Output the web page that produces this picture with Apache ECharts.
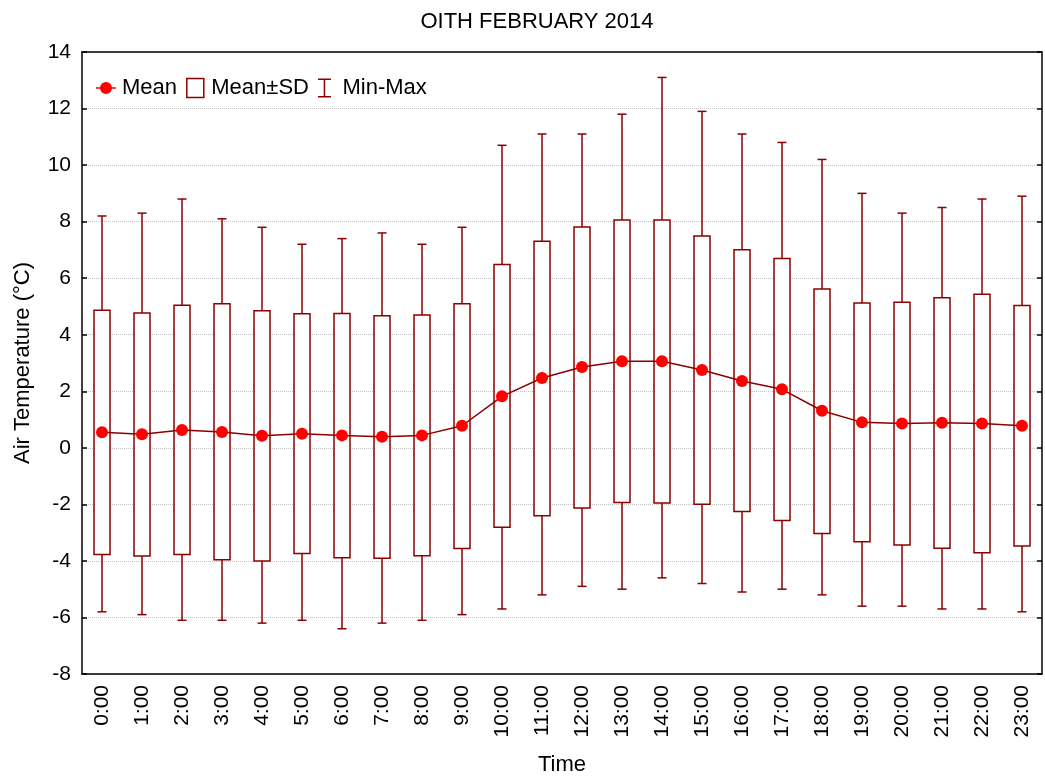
<!DOCTYPE html>
<html>
<head>
<meta charset="utf-8">
<script src="https://cdn.jsdelivr.net/npm/echarts@6/dist/echarts.min.js"></script>
<style>
html,body{margin:0;padding:0;background:#ffffff;}
#chart{width:1045px;height:780px;}
</style>
</head>
<body>
<div id="chart"></div>
<script>
// ---- data ----
const categories = ['0:00','1:00','2:00','3:00','4:00','5:00','6:00','7:00','8:00','9:00','10:00','11:00',
  '12:00','13:00','14:00','15:00','16:00','17:00','18:00','19:00','20:00','21:00','22:00','23:00'];
const meanValues = [0.55,0.48,0.63,0.56,0.43,0.50,0.44,0.39,0.44,0.78,1.82,2.47,
  2.86,3.06,3.06,2.75,2.36,2.07,1.31,0.90,0.86,0.89,0.86,0.78];
const sdHighValues = [4.87,4.77,5.04,5.10,4.85,4.74,4.75,4.67,4.70,5.10,6.48,7.31,
  7.81,8.06,8.06,7.49,7.01,6.70,5.62,5.12,5.15,5.31,5.43,5.03];
const sdLowValues = [-3.77,-3.83,-3.77,-3.96,-4.00,-3.74,-3.89,-3.91,-3.82,-3.56,-2.81,-2.40,
  -2.13,-1.93,-1.95,-2.00,-2.25,-2.57,-3.03,-3.32,-3.44,-3.55,-3.71,-3.47];
const maxValues = [8.2,8.3,8.8,8.1,7.8,7.2,7.4,7.6,7.2,7.8,10.7,11.1,
  11.1,11.8,13.1,11.9,11.1,10.8,10.2,9.0,8.3,8.5,8.8,8.9];
const minValues = [-5.8,-5.9,-6.1,-6.1,-6.2,-6.1,-6.4,-6.2,-6.1,-5.9,-5.7,-5.2,
  -4.9,-5.0,-4.6,-4.8,-5.1,-5.0,-5.2,-5.6,-5.6,-5.7,-5.7,-5.8];
const yMin = -8, yMax = 14, yInterval = 2;
const titleText = 'OITH FEBRUARY 2014';
const xName = 'Time';
const yName = 'Air Temperature (°C)';

// ---- styling ----
const DARK = '#8B0000';
const RED = '#FF0000';
const FONT = 'Liberation Sans, Arial, sans-serif';
const FS = 21;   // tick labels
const FS2 = 22;  // title, names, legend

const boxData = categories.map((c, i) => [i, sdLowValues[i], sdHighValues[i]]);
const whiskerData = categories.map((c, i) => [i, minValues[i], maxValues[i], sdLowValues[i], sdHighValues[i]]);

function renderBox(params, api) {
  const i = api.value(0);
  const lo = api.coord([i, api.value(1)]);
  const hi = api.coord([i, api.value(2)]);
  const w = 16;
  return {
    type: 'rect',
    shape: { x: lo[0] - w / 2, y: hi[1], width: w, height: lo[1] - hi[1] },
    style: { fill: '#ffffff', stroke: DARK, lineWidth: 1.5 }
  };
}

function renderWhisker(params, api) {
  const i = api.value(0);
  const x = api.coord([i, 0])[0];
  const yMinP = api.coord([i, api.value(1)])[1];
  const yMaxP = api.coord([i, api.value(2)])[1];
  const yLo = api.coord([i, api.value(3)])[1];
  const yHi = api.coord([i, api.value(4)])[1];
  const hw = 4.5;
  const style = { stroke: DARK, lineWidth: 1.5 };
  return {
    type: 'group',
    children: [
      { type: 'line', shape: { x1: x, y1: yMaxP, x2: x, y2: yHi }, style: style },
      { type: 'line', shape: { x1: x - hw, y1: yMaxP, x2: x + hw, y2: yMaxP }, style: style },
      { type: 'line', shape: { x1: x, y1: yLo, x2: x, y2: yMinP }, style: style },
      { type: 'line', shape: { x1: x - hw, y1: yMinP, x2: x + hw, y2: yMinP }, style: style }
    ]
  };
}

const chart = echarts.init(document.getElementById('chart'), null, { renderer: 'canvas' });
chart.setOption({
  animation: false,
  backgroundColor: '#ffffff',
  textStyle: { fontFamily: FONT },
  title: {
    text: titleText,
    left: 532,
    textAlign: 'center',
    top: 6,
    textStyle: { fontFamily: FONT, fontSize: FS2, fontWeight: 'normal', color: '#000' }
  },
  legend: {
    left: 91,
    top: 72,
    itemWidth: 20,
    itemHeight: 19,
    itemGap: 9,
    textStyle: { fontFamily: FONT, fontSize: FS2, color: '#000', padding: [0, 0, 0, 1] },
    data: [
      { name: 'Mean', icon: 'path://M0,9.25H20V10.75H0Z M16,10A6,6 0 1,1 4,10A6,6 0 1,1 16,10Z', itemStyle: { color: RED, borderWidth: 0 } },
      { name: 'Mean±SD', icon: 'path://M0,0H17V19H0Z', itemStyle: { color: '#ffffff', borderColor: DARK, borderWidth: 1.5 } },
      { name: 'Min-Max', icon: 'path://M0,0H13V1.5H7.25V17.5H13V19H0V17.5H5.75V1.5H0Z', itemStyle: { color: DARK, borderWidth: 0 },
        textStyle: { fontFamily: FONT, fontSize: FS2, color: '#000', padding: [0, 0, 0, 3] } }
    ]
  },
  grid: { left: 82, right: 3, top: 52, bottom: 106, containLabel: false, outerBoundsMode: 'none' },
  xAxis: [
    {
      type: 'category',
      data: categories,
      boundaryGap: true,
      name: xName,
      nameLocation: 'middle',
      nameGap: 80,
      nameTextStyle: { fontFamily: FONT, fontSize: FS2, color: '#000' },
      axisLine: { onZero: false, lineStyle: { color: '#000', width: 1.5 } },
      axisTick: { inside: true, length: 5, alignWithLabel: true, lineStyle: { color: '#000', width: 1.5 } },
      axisLabel: { rotate: 90, margin: 11, interval: 0, fontFamily: FONT, fontSize: FS, color: '#000' },
      splitLine: { show: false }
    },
    {
      type: 'category',
      data: categories,
      position: 'top',
      boundaryGap: true,
      axisLine: { onZero: false, lineStyle: { color: '#000', width: 1.5 } },
      axisTick: { inside: true, length: 5, alignWithLabel: true, lineStyle: { color: '#000', width: 1.5 } },
      axisLabel: { show: false },
      splitLine: { show: false }
    }
  ],
  yAxis: [
    {
      type: 'value',
      min: yMin, max: yMax, interval: yInterval,
      name: yName,
      nameLocation: 'middle',
      nameGap: 48,
      nameTextStyle: { fontFamily: FONT, fontSize: FS2, color: '#000' },
      axisLine: { show: true, onZero: false, lineStyle: { color: '#000', width: 1.5 } },
      axisTick: { show: true, inside: true, length: 5, lineStyle: { color: '#000', width: 1.5 } },
      axisLabel: { margin: 11, fontFamily: FONT, fontSize: FS, color: '#000' },
      splitLine: { show: true, lineStyle: { type: 'dotted', color: '#c4c4c4', width: 1 } }
    },
    {
      type: 'value',
      position: 'right',
      min: yMin, max: yMax, interval: yInterval,
      axisLine: { show: true, onZero: false, lineStyle: { color: '#000', width: 1.5 } },
      axisTick: { show: true, inside: true, length: 5, lineStyle: { color: '#000', width: 1.5 } },
      axisLabel: { show: false },
      splitLine: { show: false }
    }
  ],
  series: [
    {
      name: 'Min-Max',
      type: 'custom',
      renderItem: renderWhisker,
      data: whiskerData,
      encode: { x: 0, y: [1, 2] },
      itemStyle: { color: DARK },
      z: 2
    },
    {
      name: 'Mean±SD',
      type: 'custom',
      renderItem: renderBox,
      data: boxData,
      encode: { x: 0, y: [1, 2] },
      itemStyle: { color: '#ffffff', borderColor: DARK },
      z: 3
    },
    {
      name: 'Mean',
      type: 'line',
      data: meanValues,
      symbol: 'circle',
      symbolSize: 12,
      lineStyle: { color: DARK, width: 1.5 },
      itemStyle: { color: RED, borderWidth: 0 },
      z: 5
    }
  ]
});
</script>
</body>
</html>
